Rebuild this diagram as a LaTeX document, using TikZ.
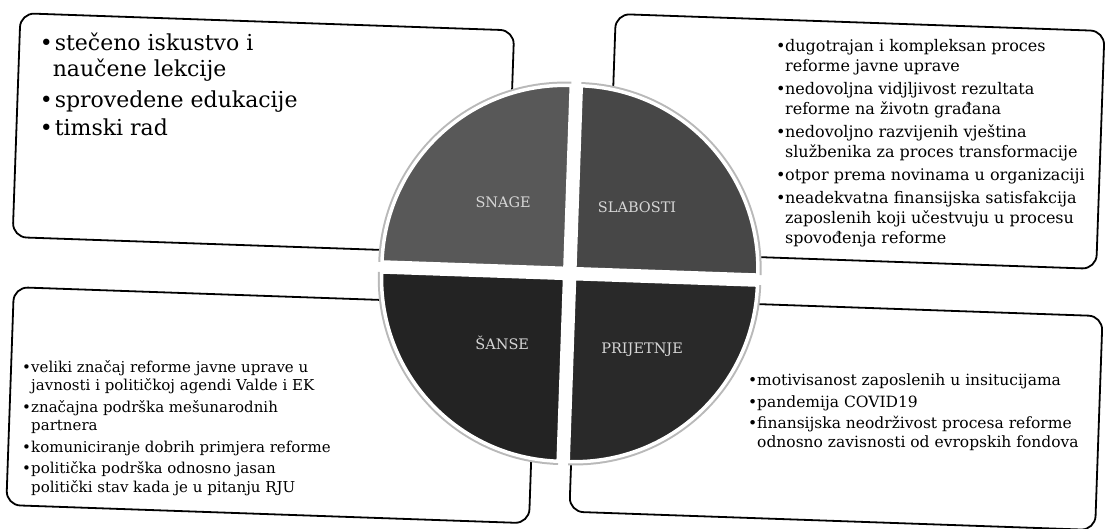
\documentclass[tikz,border=0pt]{standalone}
\usepackage{fontspec}
\setmainfont{DejaVu Serif}
\usepackage{xcolor}
\usetikzlibrary{positioning}

\definecolor{snagefill}{HTML}{585858}
\definecolor{slabfill}{HTML}{474747}
\definecolor{sansefill}{HTML}{232323}
\definecolor{prijfill}{HTML}{292929}
\definecolor{lblgray}{HTML}{D6D6D6}

\newcommand{\bul}[1][9pt]{\makebox[#1][l]{\textbullet}}
\newcommand{\ind}[1][9pt]{\hspace*{#1}}

\begin{document}
\begin{tikzpicture}[
  x=1pt, y=-1pt,
  box/.style={draw, line width=1.8pt, rounded corners=14pt, inner sep=0pt, transform shape},
  quad/.style={draw=white, line width=3.5pt},
  halo/.style={draw=gray!55, line width=7.5pt},
  lbl/.style={font=\fontsize{14.5}{16}\selectfont, text=lblgray},
  itemtxt/.style={inner sep=0pt, align=left, font=\fontsize{16}{20}\selectfont},
  bigtxt/.style={itemtxt, font=\fontsize{22}{26}\selectfont},
]
  \useasboundingbox (0,0) rectangle (1110,529);
  \fill[white] (0,0) rectangle (1110,529);
  \def\R{183}

  \begin{scope}[rotate around={-2:(555,265)}]
  % Boxes
  \node[box, minimum width=494pt, minimum height=224pt] (snagebox) at (259,144) {};
  \node[box, minimum width=489pt, minimum height=238pt] (slabbox) at (851.5,131) {};
  \node[box, minimum width=523pt, minimum height=218pt] (sansebox) at (276.5,415) {};
  \node[box, minimum width=526pt, minimum height=214pt] (prijbox) at (841,404) {};

  % Circle
  \draw[halo] (382,268) arc[start angle=180, end angle=270, radius=\R];
  \draw[halo] (575,85) arc[start angle=270, end angle=360, radius=\R];
  \draw[halo] (758,278) arc[start angle=0, end angle=90, radius=\R];
  \draw[halo] (565,461) arc[start angle=90, end angle=180, radius=\R];
  \filldraw[quad, fill=snagefill] (565,268) -- ++(-\R,0) arc[start angle=180, end angle=270, radius=\R] -- cycle;
  \filldraw[quad, fill=slabfill] (575,268) -- ++(0,-\R) arc[start angle=270, end angle=360, radius=\R] -- cycle;
  \filldraw[quad, fill=prijfill] (575,278) -- ++(\R,0) arc[start angle=0, end angle=90, radius=\R] -- cycle;
  \filldraw[quad, fill=sansefill] (565,278) -- ++(0,\R) arc[start angle=90, end angle=180, radius=\R] -- cycle;

  % Labels
  \node[lbl] (snage) at (501,204) {SNAGE};
  \node[lbl] (slabosti) at (635,204) {SLABOSTI};
  \node[lbl] (sanse) at (505,345) {ŠANSE};
  \node[lbl] (prijetnje) at (645,347) {PRIJETNJE};

  % Texts
  \node[bigtxt, below right=20pt and 20pt of snagebox.north west] (snagetxt)
    {\bul[15pt]stečeno iskustvo i\\ \ind[13pt]naučene lekcije\\[5pt]
     \bul[15pt]sprovedene edukacije\\[2pt]
     \bul[15pt]timski rad};
  \node[itemtxt, below right=26pt and 161pt of slabbox.north west] (slabtxt)
    {\bul dugotrajan i kompleksan proces\\ \ind reforme javne uprave\\[3pt]
     \bul nedovoljna vidjljivost rezultata\\ \ind reforme na životn građana\\[3pt]
     \bul nedovoljno razvijenih vještina\\ \ind službenika za proces transformacije\\[3pt]
     \bul otpor prema novinama u organizaciji\\[3pt]
     \bul neadekvatna finansijska satisfakcija\\ \ind zaposlenih koji učestvuju u procesu\\ \ind spovođenja reforme};
  \node[itemtxt, font=\fontsize{15}{18.5}\selectfont, below right=74pt and 9pt of sansebox.north west] (sansetxt)
    {\bul veliki značaj reforme javne uprave u\\ \ind javnosti i političkoj agendi Valde i EK\\[3pt]
     \bul značajna podrška mešunarodnih\\ \ind partnera\\[3pt]
     \bul komuniciranje dobrih primjera reforme\\[3pt]
     \bul politička podrška odnosno jasan\\ \ind politički stav kada je u pitanju RJU};
  \node[itemtxt, font=\fontsize{15.5}{18.5}\selectfont, below right=77pt and 172pt of prijbox.north west] (prijtxt)
    {\bul motivisanost zaposlenih u insitucijama\\[3pt]
     \bul pandemija COVID19\\[3pt]
     \bul finansijska neodrživost procesa reforme\\ \ind odnosno zavisnosti od evropskih fondova};
  \end{scope}
\end{tikzpicture}
\end{document}
